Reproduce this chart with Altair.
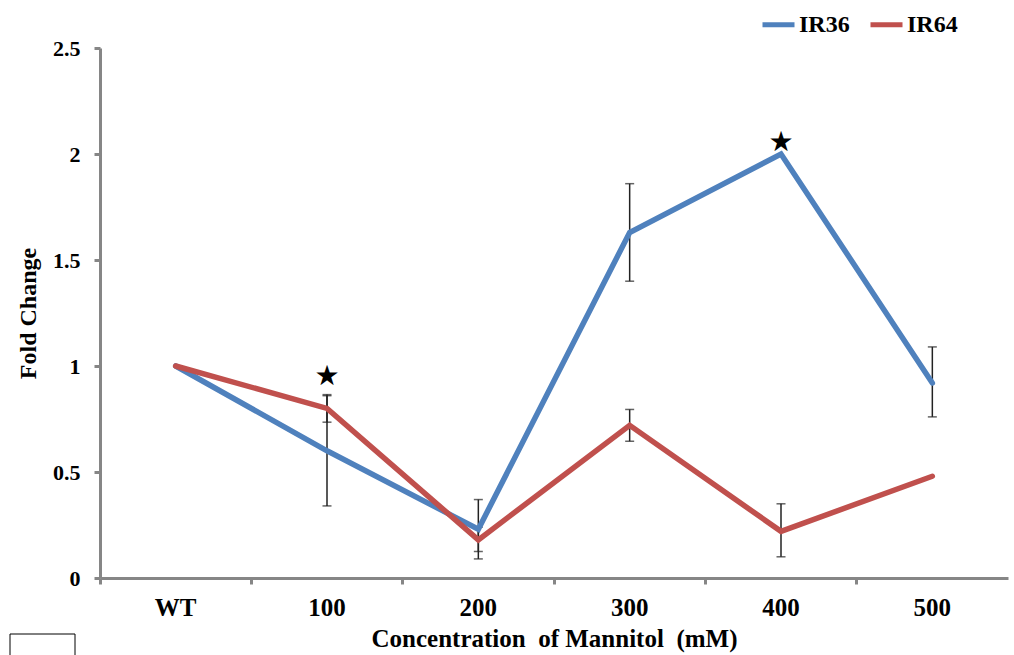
import altair as alt
import pandas as pd

conc = ["WT", "100", "200", "300", "400", "500"]
ir36 = [1.0, 0.60, 0.23, 1.63, 2.00, 0.92]
ir64 = [1.0, 0.80, 0.18, 0.72, 0.22, 0.48]
ir36_lo = [None, 0.34, 0.09, 1.40, None, 0.76]
ir36_hi = [None, 0.86, 0.37, 1.86, None, 1.09]
ir64_lo = [None, 0.735, 0.125, 0.645, 0.10, None]
ir64_hi = [None, 0.865, 0.24, 0.795, 0.35, None]
star_conc = ["100", "400"]
star_y = [0.95, 2.05]

rows = []
err = []
for i, c in enumerate(conc):
    rows.append({"conc": c, "cultivar": "IR36", "fc": ir36[i]})
    rows.append({"conc": c, "cultivar": "IR64", "fc": ir64[i]})
    if ir36_lo[i] is not None:
        err.append({"conc": c, "fc": ir36_lo[i], "hi": ir36_hi[i]})
    if ir64_lo[i] is not None:
        err.append({"conc": c, "fc": ir64_lo[i], "hi": ir64_hi[i]})
df = pd.DataFrame(rows)
edf = pd.DataFrame(err)
sdf = pd.DataFrame({"conc": star_conc, "fc": star_y, "s": ["★", "★"]})

FONT = "Liberation Serif"
xscale = alt.Scale(domain=conc, paddingInner=0, paddingOuter=0)
yscale = alt.Scale(domain=[0, 2.5], nice=False)

xaxis = alt.Axis(title="Concentration\u00a0 of Mannitol\u00a0 (mM)", labelAngle=0, bandPosition=0,
                 labelFontSize=25, labelFont=FONT, labelFontWeight="bold", labelPadding=11,
                 labelColor="black", titleFontSize=25, titleFont=FONT, titleFontWeight="bold",
                 titleColor="black", titlePadding=6, tickSize=6, tickWidth=3,
                 domainWidth=3, domainColor="#868686", tickColor="#868686", grid=False)
yaxis = alt.Axis(title="Fold Change", values=[0, 0.5, 1, 1.5, 2, 2.5], format="~g",
                 labelFontSize=22, labelFont=FONT, labelFontWeight="bold", labelPadding=14,
                 labelColor="black", titleFontSize=24, titleFont=FONT, titleFontWeight="bold",
                 titleColor="black", titlePadding=12, tickSize=6, tickWidth=3,
                 domainWidth=3, domainColor="#868686", tickColor="#868686", grid=False)

def X():
    return alt.X("conc:N", scale=xscale, axis=xaxis, sort=conc)

def Y(field):
    return alt.Y(field, scale=yscale, axis=yaxis)

err_rule = alt.Chart(edf).mark_rule(color="#222222", strokeWidth=1.5).encode(
    x=X(), y=Y("fc:Q"), y2="hi:Q")
err_lo = alt.Chart(edf).mark_tick(color="#222222", thickness=1.5, size=9, orient="horizontal").encode(
    x=X(), y=Y("fc:Q"))
err_hi = alt.Chart(edf).mark_tick(color="#222222", thickness=1.5, size=9, orient="horizontal").encode(
    x=X(), y=Y("hi:Q"))

lines = alt.Chart(df).mark_line(strokeWidth=5.5, strokeCap="round", strokeJoin="miter").encode(
    x=X(),
    y=Y("fc:Q"),
    color=alt.Color("cultivar:N",
                    scale=alt.Scale(domain=["IR36", "IR64"], range=["#4f81bd", "#c0504d"]),
                    legend=alt.Legend(title=None, orient="none", legendX=660, legendY=-42,
                                      direction="horizontal", symbolType="stroke",
                                      symbolSize=1024, symbolStrokeWidth=5,
                                      labelFont=FONT, labelFontSize=24, labelFontWeight="bold",
                                      labelColor="black", columnPadding=10, labelOffset=2)),
)

stars = alt.Chart(sdf).mark_text(fontSize=28, font="DejaVu Sans", color="black", baseline="middle").encode(
    x=X(), y=Y("fc:Q"), text="s:N")

box = alt.Chart(pd.DataFrame({"a": [0]})).mark_rect(fill="white", stroke="black", strokeWidth=1).encode(
    x=alt.value(-90), x2=alt.value(-25), y=alt.value(586), y2=alt.value(625))

chart = alt.layer(err_rule, err_lo, err_hi, lines, stars, box).properties(
    width=908, height=530,
    autosize=alt.AutoSizeParams(type="none"),
    padding={"left": 100, "top": 48, "right": 6, "bottom": 77},
    background="white",
).configure_view(strokeWidth=0)

chart.save("out.html", embed_options={"renderer": "svg", "actions": False})
